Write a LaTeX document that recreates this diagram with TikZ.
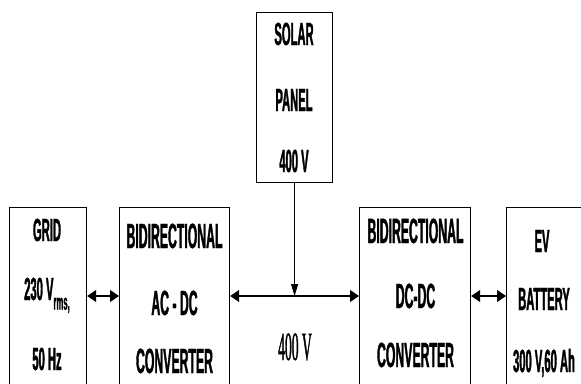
\documentclass[tikz,border=0pt]{standalone}
\usepackage{fontspec}
\usetikzlibrary{arrows.meta}
\newfontfamily\narrowsans[FakeStretch=0.35,BoldFeatures={FakeBold=1}]{Liberation Sans}
\newfontfamily\narrowserif[FakeStretch=0.34,FakeBold=0.8]{Liberation Serif}
\begin{document}
\begin{tikzpicture}[x=1pt,y=-1pt]
\tikzstyle{mybox} = [draw, line width=1.2pt, anchor=north west, inner sep=0pt, minimum height=200pt]
\tikzstyle{mytext} = [anchor=base, inner sep=0pt, font=\narrowsans\bfseries\fontsize{32}{34}\selectfont]
\tikzstyle{mybigtext} = [mytext, font=\narrowsans\bfseries\fontsize{35}{37}\selectfont]
\tikzstyle{mylink} = [line width=1.1pt, {Triangle[length=9pt,width=12pt]}-{Triangle[length=9pt,width=12pt]}]
\clip (0,0) rectangle (581,383);
\fill[white] (0,0) rectangle (581,383);
% blocks
\node[mybox, minimum width=77pt] (grid) at (9,207) {};
\node[mybox, minimum width=110pt] (acdc) at (119,207) {};
\node[mybox, minimum width=76pt, minimum height=170pt] (solar) at (256,12) {};
\node[mybox, minimum width=111pt] (dcdc) at (359,207) {};
\node[mybox, minimum width=90pt] (ev) at (506,207) {};
% texts
\node[mytext] (grid1) at (47,241) {GRID};
\node[mytext] (grid2) at (47,300) {230 V\raisebox{-0.3em}{\fontsize{22}{22}\selectfont rms,}};
\node[mytext] (grid3) at (47,370) {50 Hz};
\node[mybigtext] (acdc1) at (174.5,248) {BIDIRECTIONAL};
\node[mybigtext] (acdc2) at (174.5,315) {AC - DC};
\node[mybigtext] (acdc3) at (174.5,373) {CONVERTER};
\node[mytext] (solar1) at (294,45) {SOLAR};
\node[mytext] (solar2) at (294,111) {PANEL};
\node[mytext] (solar3) at (294,172) {400 V};
\node[mybigtext] (dcdc1) at (415.5,243) {BIDIRECTIONAL};
\node[mybigtext] (dcdc2) at (415.5,308) {DC-DC};
\node[mybigtext] (dcdc3) at (415.5,367) {CONVERTER};
\node[mytext] (ev1) at (542,252) {EV};
\node[mytext] (ev2) at (544,310) {BATTERY};
\node[mytext] (ev3) at (544,372) {300 V,60 Ah};
\node[anchor=base, inner sep=0pt, font=\narrowserif\fontsize{40}{42}\selectfont] (bus) at (295,360) {400 V};
% links
\coordinate (level) at (0,296);
\draw[mylink] (grid.east |- level) -- (acdc.west |- level);
\draw[mylink] (acdc.east |- level) -- (dcdc.west |- level);
\draw[mylink] (dcdc.east |- level) -- (ev.west |- level);
\draw[line width=1.1pt, -{Triangle[length=12pt,width=7pt]}] (solar.south) -- (solar.south |- level);
\end{tikzpicture}
\end{document}
